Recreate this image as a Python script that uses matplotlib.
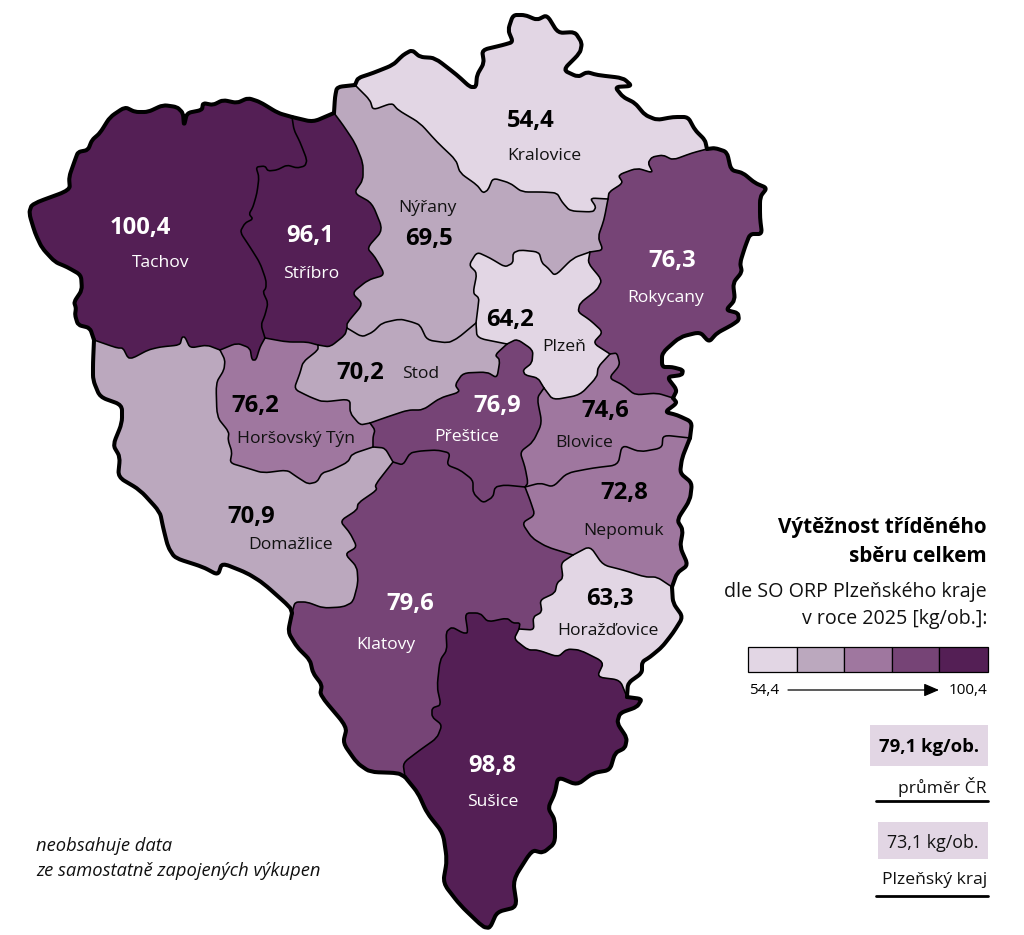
import matplotlib
matplotlib.use("Agg")
import matplotlib.pyplot as plt
from matplotlib.path import Path
from matplotlib.patches import PathPatch, Rectangle

plt.rcParams['font.family'] = ['Open Sans', 'DejaVu Sans']

# ---- data ----
names = ["Tachov","Stříbro","Kralovice","Nýřany","Plzeň","Rokycany","Stod","Horšovský Týn",
         "Přeštice","Blovice","Nepomuk","Domažlice","Klatovy","Horažďovice","Sušice"]
values = [100.4,96.1,54.4,69.5,64.2,76.3,70.2,76.2,76.9,74.6,72.8,70.9,79.6,63.3,98.8]
classes = [4,4,0,1,0,3,1,2,3,2,2,1,3,0,4]
palette = ["#E2D6E4","#BBA8BE","#9F779F","#764476","#541F55"]
value_pos = [(140,227),(310,235),(531,120),(429,238),(510,319),(672,260),(360,372),(255,405),
             (497,405),(605,410),(624,492),(251,516),(410,603),(610,598),(492,765)]
name_pos = [(161,262),(311,273),(544,155),(427,207),(564,346),(666,297),(421,373),(296,438),
            (467,436),(584,442),(624,530),(291,544),(386,644),(608,630),(493,801)]

# boundary arcs (traced map outline, image pixel coordinates)
o_tachov = [(94,340),(90,328),(78,325),(75,315),(76,308),(74,302),(82,290),(81,275),(67,267),(55,262),(42,248),(35,233),(29,213),(32,204),(70,190),(69,177),(75,160),(78,152),(88,150),(92,140),(100,133),(110,117),(125,107),(135,112),(148,112),(163,105),(177,107),(183,113),(184,126),(187,113),(202,110),(203,103),(213,105),(223,100),(237,103),(248,98),(260,102),(278,113),(292,117)]
o_stribro = [(292,117),(313,122),(334,113)]
o_nyrany = [(334,113),(335,97),(337,87),(355,85)]
o_kralovice = [(355,85),(358,78),(373,73),(393,65),(403,55),(412,50),(420,57),(435,58),(457,75),(470,87),(476,87),(477,75),(484,63),(482,50),(503,45),(513,42),(508,30),(513,15),(525,15),(537,20),(547,15),(558,33),(575,32),(582,43),(580,53),(563,70),(578,77),(587,72),(597,75),(623,78),(632,86),(615,87),(623,97),(635,103),(645,115),(657,120),(673,117),(688,117),(695,130),(705,140),(707,149)]
o_rokycany = [(707,149),(715,148),(727,152),(731,170),(743,173),(755,183),(767,188),(760,197),(760,218),(762,234),(750,234),(745,247),(740,263),(742,272),(733,283),(735,300),(726,310),(738,313),(739,320),(732,325),(717,333),(709,342),(700,332),(680,337),(662,353),(662,367),(672,367),(683,370),(682,375),(667,377),(677,390),(673,398)]
o_blovice = [(673,398),(677,403),(665,412),(677,415),(692,422),(690,438)]
o_nepomuk = [(690,438),(682,458),(680,473),(692,483),(690,500),(677,520),(683,530),(680,547),(688,565),(677,573),(672,587)]
o_horazd = [(672,587),(673,603),(683,617),(673,633),(662,647),(650,657),(642,662),(642,673),(628,683),(627,697)]
o_susice = [(627,697),(642,699),(637,707),(620,713),(617,723),(627,738),(625,748),(615,753),(610,770),(593,773),(577,785),(558,777),(555,793),(548,808),(555,820),(555,843),(543,853),(532,850),(513,880),(517,907),(497,912),(490,928),(483,927),(460,905),(443,883),(447,860),(443,833),(427,813),(418,793),(405,777)]
o_klatovy = [(405,777),(398,773),(370,772),(357,763),(343,743),(347,727),(320,695),(322,685),(313,673),(310,660),(297,647),(288,632),(292,613)]
o_domazlice = [(292,613),(290,607),(263,583),(247,573),(222,563),(218,575),(203,567),(175,558),(168,547),(163,527),(160,512),(140,490),(118,477),(120,457),(113,445),(122,423),(122,405),(100,397),(93,380),(93,363),(94,340)]

tach_str = [(292,117),(294,130),(300,142),(307,160),(305,166),(297,168),(287,165),(277,170),(268,171),(265,166),(256,167),(259,177),(257,193),(253,207),(249,214),(253,219),(245,223),(240,232),(250,247),(260,263),(266,280),(266,288),(263,292),(268,303),(265,315),(261,325),(265,338)]
tach_ht = [(265,338),(260,347),(256,360),(252,360),(250,348),(237,343),(220,350)]
tach_dom = [(220,350),(207,345),(190,348),(185,337),(182,337),(180,345),(160,347),(148,350),(133,358),(128,358),(123,348),(117,348),(94,340)]
str_nyr = [(334,113),(343,125),(355,143),(363,163),(363,180),(354,193),(372,203),(383,230),(367,248),(375,257),(385,275),(368,280),(352,293),(363,304),(347,323),(347,328)]
str_stod = [(347,328),(345,335),(330,347),(318,345)]
str_ht = [(318,345),(307,342),(287,342),(265,338)]
kra_rok = [(707,149),(692,153),(673,160),(663,155),(652,157),(648,163),(653,173),(637,168),(618,175),(623,183),(609,192),(608,199)]
kra_nyr = [(608,199),(590,198),(596,207),(593,212),(570,211),(562,202),(557,193),(543,192),(522,192),(510,183),(493,178),(488,190),(483,193),(477,185),(460,173),(456,160),(437,142),(420,123),(398,110),(392,103),(373,110),(370,100),(355,85)]
rok_nyr = [(608,199),(604,220),(598,237),(603,250),(590,252)]
plz_nyr = [(590,252),(573,258),(555,276),(548,268),(542,263),(539,252),(520,250),(513,253),(513,263),(505,267),(490,258),(477,252),(469,265),(477,273),(473,293),(479,298),(478,307),(476,323)]
nyr_stod = [(476,323),(458,338),(448,343),(427,340),(420,325),(412,322),(400,319),(382,323),(373,332),(362,337),(347,328)]
plz_rok = [(590,252),(588,263),(602,280),(597,290),(580,303),(578,312),(590,320),(603,332),(593,343),(610,354)]
plz_stod = [(476,323),(477,338),(507,344)]
plz_pre = [(507,344),(517,339),(533,350),(532,363),(523,370),(525,375),(538,378),(544,388)]
plz_blo = [(610,354),(598,367),(597,377),(580,395),(553,400),(544,388)]
blo_rok = [(610,354),(617,353),(620,365),(609,378),(623,385),(635,395),(657,393),(673,398)]
ht_stod = [(318,345),(318,350),(303,362),(300,373),(294,389),(310,397),(323,402),(350,399),(350,413),(360,425),(370,423)]
ht_pre = [(370,423),(375,430),(373,437),(373,447)]
ht_dom = [(373,447),(352,454),(348,462),(332,470),(322,473),(317,482),(308,484),(297,477),(287,470),(263,473),(247,468),(230,463),(232,452),(228,440),(229,432),(217,417),(216,383),(224,370),(225,360),(220,350)]
stod_pre = [(370,423),(387,417),(408,410),(423,410),(440,398),(460,392),(455,385),(463,373),(487,372),(497,378),(500,360),(495,355),(507,344)]
dom_pre = [(373,447),(385,448),(393,462)]
dom_kla = [(393,462),(375,485),(377,490),(358,503),(357,510),(340,521),(350,533),(357,547),(345,554),(357,567),(358,583),(353,602),(343,607),(323,608),(307,602),(295,602),(292,613)]
pre_kla = [(393,462),(403,465),(410,453),(420,451),(437,450),(450,453),(447,465),(460,470),(473,480),(473,493),(483,503),(493,497),(495,487),(505,485),(525,487)]
pre_blo = [(544,388),(537,398),(542,423),(533,442),(520,452),(525,467),(528,483),(525,487)]
blo_nep = [(525,487),(540,483),(553,487),(567,473),(593,468),(618,465),(622,445),(640,452),(662,448),(663,435),(690,438)]
kla_nep = [(525,487),(530,500),(535,515),(522,523),(532,538),(547,547),(573,555)]
nep_hor = [(573,555),(590,546),(603,565),(623,570),(645,577),(657,577),(672,587)]
kla_hor = [(573,555),(561,563),(563,578),(557,583),(555,593),(540,600),(542,612),(533,617),(534,630),(519,629)]
kla_sus = [(519,629),(520,623),(513,623),(507,618),(488,622),(480,613),(465,613),(468,633),(463,633),(452,627),(446,632),(447,650),(440,660),(437,687),(441,705),(432,708),(432,717),(442,725),(437,738),(420,750),(403,763),(405,777)]
sus_hor = [(627,697),(620,680),(597,677),(604,662),(580,650),(567,649),(558,657),(538,650),(528,650),(514,639),(519,629)]

R = lambda a: a[::-1]
region_arcs = {
 "Tachov":[o_tachov,tach_str,tach_ht,tach_dom],
 "Stříbro":[o_stribro,str_nyr,str_stod,str_ht,R(tach_str)],
 "Kralovice":[o_kralovice,kra_rok,kra_nyr],
 "Nýřany":[o_nyrany,R(kra_nyr),rok_nyr,plz_nyr,nyr_stod,R(str_nyr)],
 "Plzeň":[R(plz_nyr),plz_rok,plz_blo,R(plz_pre),R(plz_stod)],
 "Rokycany":[o_rokycany,R(blo_rok),R(plz_rok),R(rok_nyr),R(kra_rok)],
 "Stod":[R(str_stod),R(nyr_stod),plz_stod,R(stod_pre),R(ht_stod)],
 "Horšovský Týn":[R(str_ht),ht_stod,ht_pre,ht_dom,R(tach_ht)],
 "Přeštice":[stod_pre,plz_pre,pre_blo,R(pre_kla),R(dom_pre),R(ht_pre)],
 "Blovice":[blo_rok,o_blovice,R(blo_nep),R(pre_blo),R(plz_blo)],
 "Nepomuk":[blo_nep,o_nepomuk,R(nep_hor),R(kla_nep)],
 "Domažlice":[R(tach_dom),R(ht_dom),dom_pre,dom_kla,o_domazlice],
 "Klatovy":[pre_kla,kla_nep,kla_hor,kla_sus,o_klatovy,R(dom_kla)],
 "Horažďovice":[nep_hor,o_horazd,sus_hor,R(kla_hor)],
 "Sušice":[R(kla_sus),R(sus_hor),o_susice],
}
inner_arcs = [tach_str,tach_ht,tach_dom,str_nyr,str_stod,str_ht,kra_rok,kra_nyr,rok_nyr,plz_nyr,nyr_stod,
              plz_rok,plz_stod,plz_pre,plz_blo,blo_rok,ht_stod,ht_pre,ht_dom,stod_pre,dom_pre,dom_kla,
              pre_kla,pre_blo,blo_nep,kla_nep,nep_hor,kla_hor,kla_sus,sus_hor]
outer_arcs = [o_tachov,o_stribro,o_nyrany,o_kralovice,o_rokycany,o_blovice,o_nepomuk,o_horazd,o_susice,o_klatovy,o_domazlice]

# legend texts / values
title_lines = ["Výtěžnost tříděného","sběru celkem"]
sub_lines = ["dle SO ORP Plzeňského kraje","v roce 2025 [kg/ob.]:"]
note_lines = ["neobsahuje data","ze samostatně zapojených výkupen"]
cell_edges = [748,797,844,892,939,988]
scale_min, scale_max = "54,4", "100,4"
avg_cr, avg_kraj = "79,1 kg/ob.", "73,1 kg/ob."

# ---- drawing ----
fig = plt.figure(figsize=(10.24,9.35),dpi=100)
ax = fig.add_axes([0,0,1,1])
ax.set_xlim(0,1024); ax.set_ylim(935,0); ax.axis('off')

ROUND = 0.3  # share of each segment rounded at a corner

def arc_segments(pts, first):
    v = [pts[0]]
    c = [Path.MOVETO if first else Path.LINETO]
    for i in range(1,len(pts)-1):
        a, p, b = pts[i-1], pts[i], pts[i+1]
        v.append((p[0]+(a[0]-p[0])*ROUND, p[1]+(a[1]-p[1])*ROUND)); c.append(Path.LINETO)
        v.append(p); c.append(Path.CURVE3)
        v.append((p[0]+(b[0]-p[0])*ROUND, p[1]+(b[1]-p[1])*ROUND)); c.append(Path.CURVE3)
    v.append(pts[-1]); c.append(Path.LINETO)
    return v, c

def path_from(arcs):
    V, C = [], []
    for i,a in enumerate(arcs):
        v,c = arc_segments(a, i==0)
        V += v; C += c
    return Path(V,C)

for n,cl in zip(names,classes):
    ax.add_patch(PathPatch(path_from(region_arcs[n]),fc=palette[cl],ec=palette[cl],lw=0.3,zorder=1))
for a in inner_arcs:
    ax.add_patch(PathPatch(path_from([a]),fc='none',ec='black',lw=1.15,capstyle='round',joinstyle='round',zorder=2))
for a in outer_arcs:
    ax.add_patch(PathPatch(path_from([a]),fc='none',ec='black',lw=2.9,capstyle='round',joinstyle='round',zorder=3))

for n,v,cl,vp,np_ in zip(names,values,classes,value_pos,name_pos):
    col = 'white' if cl>=3 else 'black'
    ax.text(vp[0],vp[1]+1,f"{v:.1f}".replace('.',','),fontsize=17.2,fontweight='bold',color=col,ha='center',va='center',zorder=4)
    ax.text(np_[0],np_[1]+1,n,fontsize=12.6,color=col if cl>=3 else '#111111',ha='center',va='center',zorder=4)

RX = 987
for t,y in zip(title_lines,[528,556]):
    ax.text(RX,y,t,fontsize=14.9,fontweight='bold',ha='right',va='center')
for t,y in zip(sub_lines,[592,619]):
    ax.text(RX,y,t,fontsize=14.1,ha='right',va='center',color='#111111')

for i,c in enumerate(palette):
    ax.add_patch(Rectangle((cell_edges[i],647),cell_edges[i+1]-cell_edges[i],25,fc=c,ec='black',lw=0.9,zorder=2))
ax.text(749,691,scale_min,fontsize=11,ha='left',va='center')
ax.text(RX,691,scale_max,fontsize=11,ha='right',va='center')
ax.annotate('',xy=(939,690),xytext=(788,690),arrowprops=dict(arrowstyle='-|>,head_length=0.65,head_width=0.28',color='black',lw=0.9,shrinkA=0,shrinkB=0,mutation_scale=14))

ax.add_patch(Rectangle((870,725),118,41,fc=palette[0],ec='none'))
ax.text(929,747,avg_cr,fontsize=13.3,fontweight='bold',ha='center',va='center')
ax.text(RX,787,"průměr ČR",fontsize=12.6,ha='right',va='center',color='#111111')
ax.plot([876,988],[801,801],color='black',lw=2.0,solid_capstyle='round')
ax.add_patch(Rectangle((878,822),110,37,fc=palette[0],ec='none'))
ax.text(933,843,avg_kraj,fontsize=12.9,ha='center',va='center',color='#111111')
ax.text(RX,880,"Plzeňský kraj",fontsize=12.6,ha='right',va='center',color='#111111')
ax.plot([876,988],[896,896],color='black',lw=2.0,solid_capstyle='round')

for t,y in zip(note_lines,[846,871]):
    ax.text(36,y,t,fontsize=13.2,style='italic',ha='left',va='center',color='#111111')

fig.savefig('out.png',dpi=100)
